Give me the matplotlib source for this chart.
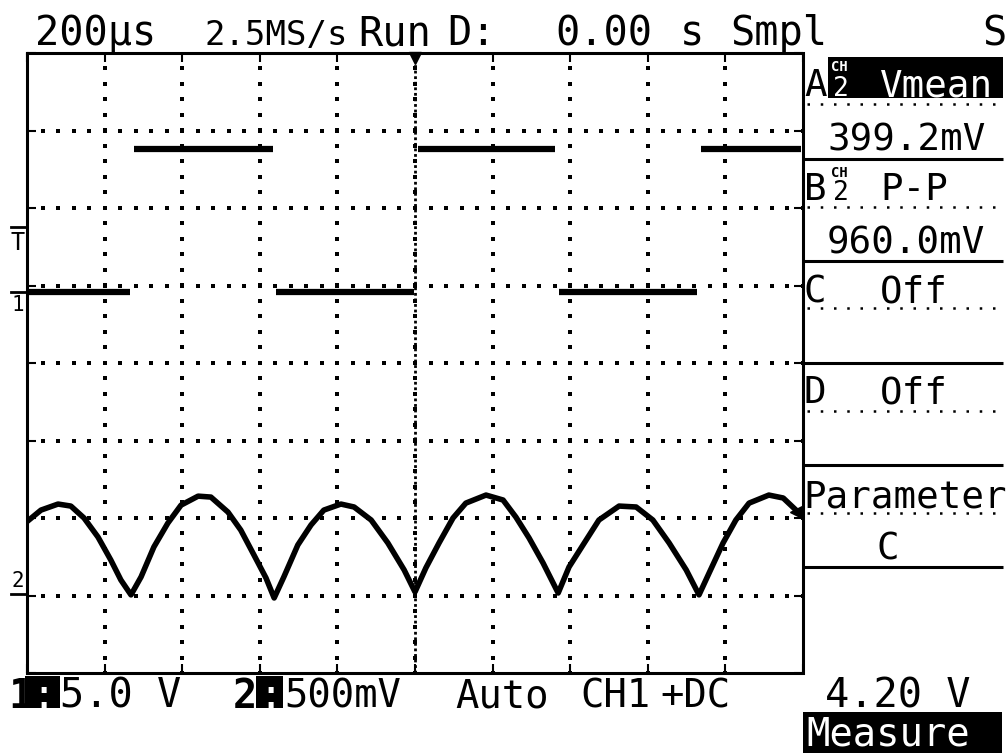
import numpy as np
import matplotlib.pyplot as plt
from matplotlib.patches import Rectangle
from matplotlib.transforms import blended_transform_factory

# CH2: full-wave rectified signal, time in µs from trigger, level in V
ch2_t_us = [-995, -964, -920, -887, -853, -817, -784, -758, -732,
            -706, -673, -637, -603, -559, -526, -482, -449, -415, -384, -363,
            -338, -302, -268, -235, -191, -157, -113, -70, -28, 0,
            28, 62, 98, 131, 183, 227, 260, 294, 330, 369,
            397, 433, 474, 526, 570, 613, 655, 699, 732,
            758, 794, 827, 861, 912, 949, 982, 1000]
ch2_v = [0.477, 0.541, 0.580, 0.567, 0.490, 0.367, 0.219, 0.090, -0.006,
         0.110, 0.303, 0.457, 0.573, 0.631, 0.625, 0.528, 0.412, 0.251, 0.103, -0.026,
         0.110, 0.316, 0.445, 0.541, 0.580, 0.561, 0.477, 0.329, 0.155, 0.013,
         0.168, 0.329, 0.490, 0.586, 0.638, 0.606, 0.496, 0.361, 0.200, 0.006,
         0.174, 0.316, 0.477, 0.567, 0.561, 0.477, 0.329, 0.155, -0.006,
         0.135, 0.329, 0.477, 0.586, 0.638, 0.619, 0.541, 0.496]

# CH1: square wave, edge times in µs and the level of each run in V
ch1_edges_us = [-1000, -730, -362, 2, 366, 731, 1000]
ch1_levels_v = [0.0, 9.2, 0.0, 9.2, 0.0, 9.2]

# front panel settings
time_per_div_us = 200
ch1_v_per_div = 5.0
ch2_v_per_div = 0.5
ch1_offset_div = 0.92
ch2_offset_div = -2.98
trig_level_v = 4.20
cursor_div = -1.92

# readouts: (text, x, font size)
top_text = [("200µs", 35, 29), ("2.5MS/s", 205, 24.5), ("Run", 358, 29), ("D:", 447, 29),
            ("0.00", 555, 29), ("s", 680, 29), ("Smpl", 730, 29), ("S", 982, 29)]
bottom_text = [("5.0 V", 60, 29), ("500mV", 284, 28), ("Auto", 455, 28), ("CH1", 580, 28),
               ("+DC", 660, 28), (f"{trig_level_v:.2f} V", 825, 29)]
meas_a = ("Vmean", "399.2mV")
meas_b = ("P-P", "960.0mV")

plt.rcParams['font.family'] = ['DejaVu Sans Mono']

W, H = 1006, 753
fig = plt.figure(figsize=(W / 100, H / 100), dpi=100, facecolor='white')

# overlay in screen pixels for readouts and the side menu
ui = fig.add_axes([0, 0, 1, 1], zorder=2)
ui.set_xlim(0, W)
ui.set_ylim(H, 0)
ui.set_axis_off()


def ui_text(x, y, s, size=29, color='k', **kw):
    ui.text(x, y, s, fontsize=size, color=color, va='baseline', ha='left', **kw)


# graticule: 10 x 8 divisions
gx0, gx1, gy0, gy1 = 27, 803, 53, 673
ax = fig.add_axes([gx0 / W, 1 - gy1 / H, (gx1 - gx0) / W, (gy1 - gy0) / H], zorder=1)
half_t = 5 * time_per_div_us
ax.set_xlim(-half_t, half_t)
ax.set_ylim(-4, 4)
ax.set_xticks(np.arange(-half_t, half_t + 1, time_per_div_us))
ax.set_yticks(np.arange(-4, 5))
ax.tick_params(direction='in', length=6.5, width=1.5, top=True, right=True,
               labelbottom=False, labelleft=False, color='k')
for sp in ax.spines.values():
    sp.set_linestyle((0, (1, 1)))
    sp.set_linewidth(2.2)

minor_t = np.arange(-half_t, half_t + 1, time_per_div_us / 5)
minor_y = np.arange(-4, 4.01, 0.2)
for xv in ax.get_xticks()[1:-1]:
    ax.plot(np.full_like(minor_y, xv), minor_y, ls='none', marker='s', ms=2.2, mew=0, color='k')
for yv in range(-3, 4):
    ax.plot(minor_t, np.full(len(minor_t), float(yv)), ls='none', marker='s', ms=2.2, mew=0, color='k')
ax.axvline(0, ls=(0, (1, 1)), lw=2, color='k')

# traces
v2 = ch2_offset_div + np.array(ch2_v) / ch2_v_per_div
ax.plot(ch2_t_us, v2, color='k', lw=4, solid_joinstyle='round')
for a, b, lvl in zip(ch1_edges_us[:-1], ch1_edges_us[1:], ch1_levels_v):
    ax.hlines(ch1_offset_div + lvl / ch1_v_per_div, a + 5, b - 5, colors='k', lw=4.5)

# trigger position and cursor markers on the border
dv = 8 / (gy1 - gy0)
ax.plot([0], [4 - 5 * dv], marker='v', ms=8, color='k', clip_on=False)
ax.plot([half_t - 7 * 2.58], [cursor_div], marker='<', ms=8, color='k', clip_on=False)

# channel ground and trigger level markers at the left edge
lt = blended_transform_factory(ax.transAxes, ax.transData)
pxa = 1 / (gx1 - gx0)
trig_div = ch1_offset_div + trig_level_v / ch1_v_per_div
for y in (ch1_offset_div, ch2_offset_div, trig_div):
    ax.plot([-16 * pxa, 0], [y, y], transform=lt, color='k', lw=2, clip_on=False)
ax.text(-9 * pxa, ch1_offset_div - 3 * dv, "1", transform=lt, fontsize=15,
        ha='center', va='top')
ax.text(-9 * pxa, ch2_offset_div + 3 * dv, "2", transform=lt, fontsize=15,
        ha='center', va='bottom')
ax.text(-9 * pxa, trig_div - 4 * dv, "T", transform=lt, fontsize=17,
        ha='center', va='top')

# top status line
for s, x, size in top_text:
    ui_text(x, 45, s, size=size)

# side menu
px0, px1 = 803, 1003
ui.add_patch(Rectangle((828, 57), 175, 41, color='k', lw=0))
ui_text(804, 96, "A", size=27)
ui_text(831, 71, "CH", size=10, color='w', weight='bold')
ui_text(833, 96, "2", size=19, color='w')
ui_text(880, 96, meas_a[0], size=27, color='w')
ui_text(827, 150, meas_a[1], size=27)
ui_text(804, 200, "B", size=27)
ui_text(831, 177, "CH", size=10, weight='bold')
ui_text(833, 200, "2", size=19)
ui_text(880, 200, meas_b[0], size=27)
ui_text(827, 253, meas_b[1], size=27)
ui_text(804, 302, "C", size=27)
ui_text(880, 302, "Off", size=27)
ui_text(804, 403, "D", size=27)
ui_text(880, 403, "Off", size=27)
ui_text(803, 507, "Parameter", size=27)
ui_text(877, 560, "C", size=27)
ui.hlines([159, 261, 363, 465, 567], px0, px1, colors='k', lw=2.2)
ui.hlines([104, 207, 308, 411, 513], px0 + 4, px1, colors='k', lw=1.8,
          linestyles=[(0, (1, 4.3))])

# bottom channel readouts
ui.add_patch(Rectangle((25, 676), 35, 32, color='k', lw=0))
ui_text(8, 708, "1", weight='bold')
ui_text(31, 708, ":", color='w')
ui.add_patch(Rectangle((256, 676), 27, 32, color='k', lw=0))
ui_text(233, 708, "2", weight='bold')
ui_text(258, 708, ":", color='w')
for s, x, size in bottom_text:
    ui_text(x, 708, s, size=size)

ui.add_patch(Rectangle((803, 712), 199, 41, color='k', lw=0))
ui_text(806, 745, "Measure", size=28, color='w')

fig.savefig('out.png', dpi=100, facecolor='white')
